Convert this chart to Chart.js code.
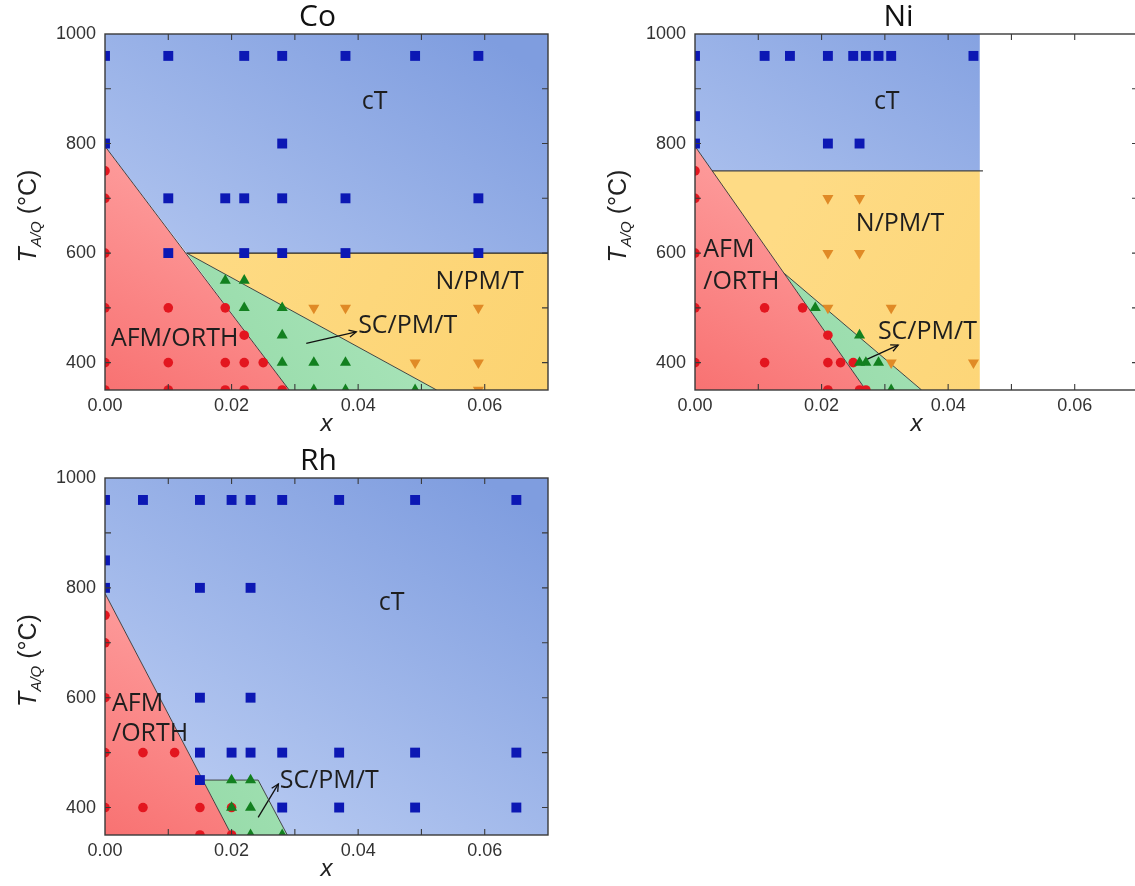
<!DOCTYPE html>
<html>
<head>
<meta charset="utf-8">
<script src="https://cdn.jsdelivr.net/npm/chart.js@4.4.1/dist/chart.umd.min.js"></script>
<style>
  html, body { margin: 0; padding: 0; background: #fff; }
  body { position: relative; width: 1135px; height: 886px; overflow: hidden; }
  canvas { position: absolute; }
</style>
</head>
<body>
<canvas id="coChart" width="580" height="440" style="left:0px;top:0px"></canvas>
<canvas id="niChart" width="570" height="440" style="left:580px;top:0px"></canvas>
<canvas id="rhChart" width="580" height="446" style="left:0px;top:440px"></canvas>
<script>
// tick labels shared by the three panels
const xTicks = [0, 0.02, 0.04, 0.06];
const yTicks = [400, 600, 800, 1000];

// ---------- Co ----------
const coBlueX = [0, 0.010, 0.022, 0.028, 0.038, 0.049, 0.059, 0, 0.028, 0.010, 0.019, 0.022, 0.028, 0.038, 0.059, 0.010, 0.022, 0.028, 0.038, 0.059];
const coBlueY = [960, 960, 960, 960, 960, 960, 960, 800, 800, 700, 700, 700, 700, 700, 700, 600, 600, 600, 600, 600];
const coRedX = [0, 0, 0, 0, 0.010, 0.019, 0.022, 0, 0.010, 0.019, 0.022, 0.025, 0, 0.010, 0.019, 0.022, 0.028];
const coRedY = [750, 700, 600, 500, 500, 500, 450, 400, 400, 400, 400, 400, 350, 350, 350, 350, 350];
const coGreenX = [0.019, 0.022, 0.022, 0.028, 0.028, 0.028, 0.033, 0.038, 0.033, 0.038, 0.049];
const coGreenY = [550, 550, 500, 500, 450, 400, 400, 400, 350, 350, 350];
const coOrangeX = [0.033, 0.038, 0.059, 0.049, 0.059, 0.059];
const coOrangeY = [500, 500, 500, 400, 400, 350];
// phase regions (polygon corners)
const coCtRegX = [0, 0.07, 0.07, 0.0129, 0];
const coCtRegY = [1000, 1000, 600, 600, 795];
const coAfmRegX = [0, 0.0291, 0];
const coAfmRegY = [795, 350, 350];
const coScRegX = [0.0129, 0.0524, 0.0291];
const coScRegY = [600, 350, 350];
const coNRegX = [0.0129, 0.07, 0.07, 0.0524];
const coNRegY = [600, 600, 350, 350];
// boundary lines
const coLine1X = [0, 0.0291], coLine1Y = [795, 350];
const coLine2X = [0.0129, 0.0524], coLine2Y = [600, 350];
const coLine3X = [0.0129, 0.07], coLine3Y = [600, 600];
const coArrowX = [0.0318, 0.0397], coArrowY = [435, 456];

// ---------- Ni ----------
const niBlueX = [0, 0.011, 0.015, 0.021, 0.025, 0.027, 0.029, 0.031, 0.044, 0, 0, 0.021, 0.026];
const niBlueY = [960, 960, 960, 960, 960, 960, 960, 960, 960, 850, 800, 800, 800];
const niRedX = [0, 0, 0, 0, 0.011, 0.017, 0.021, 0, 0.011, 0.021, 0.023, 0.025, 0.021, 0.026, 0.027];
const niRedY = [750, 700, 600, 500, 500, 500, 450, 400, 400, 400, 400, 400, 350, 350, 350];
const niGreenX = [0.019, 0.026, 0.026, 0.027, 0.029, 0.031];
const niGreenY = [500, 450, 400, 400, 400, 350];
const niOrangeX = [0.021, 0.026, 0.021, 0.026, 0.021, 0.031, 0.031, 0.044];
const niOrangeY = [700, 700, 600, 600, 500, 500, 400, 400];
const niCtRegX = [0, 0.045, 0.045, 0.0027, 0];
const niCtRegY = [1000, 1000, 750, 750, 795];
const niAfmRegX = [0, 0.027, 0];
const niAfmRegY = [795, 350, 350];
const niScRegX = [0.0141, 0.0358, 0.027];
const niScRegY = [563, 350, 350];
const niNRegX = [0.0027, 0.045, 0.045, 0.0358, 0.0141];
const niNRegY = [750, 750, 350, 350, 563];
const niLine1X = [0, 0.027], niLine1Y = [795, 350];
const niLine2X = [0.0141, 0.0358], niLine2Y = [563, 350];
const niLine3X = [0.0027, 0.0455], niLine3Y = [750, 750];
const niArrowX = [0.0268, 0.0321], niArrowY = [404, 432];

// ---------- Rh ----------
const rhBlueX = [0, 0.006, 0.015, 0.020, 0.023, 0.028, 0.037, 0.049, 0.065, 0, 0, 0.015, 0.023, 0.015, 0.023, 0.015, 0.020, 0.023, 0.028, 0.037, 0.049, 0.065, 0.015, 0.028, 0.037, 0.049, 0.065];
const rhBlueY = [960, 960, 960, 960, 960, 960, 960, 960, 960, 850, 800, 800, 800, 600, 600, 500, 500, 500, 500, 500, 500, 500, 450, 400, 400, 400, 400];
const rhRedX = [0, 0, 0, 0, 0.006, 0.011, 0, 0.006, 0.015, 0.020, 0.015, 0.020];
const rhRedY = [750, 700, 600, 500, 500, 500, 400, 400, 400, 400, 350, 350];
const rhGreenX = [0.020, 0.023, 0.020, 0.023, 0.023, 0.028];
const rhGreenY = [450, 450, 400, 400, 350, 350];
const rhCtRegX = [0, 0.07, 0.07, 0.0288, 0.0242, 0.0155, 0];
const rhCtRegY = [1000, 1000, 350, 350, 450, 450, 790];
const rhAfmRegX = [0, 0.020, 0];
const rhAfmRegY = [790, 350, 350];
const rhScRegX = [0.0155, 0.0242, 0.0288, 0.020];
const rhScRegY = [450, 450, 350, 350];
const rhLine1X = [0, 0.020], rhLine1Y = [790, 350];
const rhLine2X = [0.0155, 0.0242, 0.0288], rhLine2Y = [450, 450, 350];
const rhArrowX = [0.0242, 0.0274], rhArrowY = [382, 443];

const pts = (xs, ys) => xs.map((v, i) => ({ x: v, y: ys[i] }));

// gradient fills, built against the chart area
const makeGrad = (from, to, c0, c1) => (c) => {
  const a = c.chart.chartArea;
  if (!a) return c0;
  const g = c.chart.ctx.createLinearGradient(
    a.left + from[0] * a.width, a.top + from[1] * a.height,
    a.left + to[0] * a.width, a.top + to[1] * a.height);
  g.addColorStop(0, c0);
  g.addColorStop(1, c1);
  return g;
};
const blueFill = makeGrad([0.85, 0], [0.35, 1], '#7f9ddf', '#b6c9f1');
const redFill = makeGrad([0, 1], [0.3, 0.25], '#f87272', '#ffaaaa');
const greenFill = makeGrad([0.1, 1], [0.7, 0.5], '#93d9a6', '#ade6bd');
const yellowFill = makeGrad([0.2, 0.5], [1, 1], '#fedb85', '#fcd371');

function region(xs, ys, fill) {
  const p = pts(xs, ys);
  p.push(p[0]);
  return { type: 'line', data: p, fill: 'shape', backgroundColor: fill,
           borderWidth: 0, borderColor: 'rgba(0,0,0,0)', pointRadius: 0, order: 10 };
}
function bound(xs, ys, w, color) {
  return { type: 'line', data: pts(xs, ys), fill: false, borderColor: color || '#333',
           borderWidth: w || 1, pointRadius: 0, order: 5 };
}
function marks(xs, ys, color, style, r, rot) {
  return { data: pts(xs, ys), backgroundColor: color, borderWidth: 0, pointStyle: style,
           pointRadius: r, rotation: rot || 0, clip: 0, order: 1 };
}

// frame, inward ticks, texts, arrow head
const phaseDecor = {
  id: 'phaseDecor',
  afterDatasetsDraw(chart, args, opts) {
    const { ctx, chartArea: a, scales: { x, y } } = chart;
    ctx.save();
    ctx.strokeStyle = '#3a3a3a';
    ctx.lineWidth = 1.4;
    ctx.strokeRect(a.left, a.top, a.width, a.height);
    ctx.lineWidth = 1.1;
    ctx.beginPath();
    for (let i = 1; i < 7; i++) {
      const px = x.getPixelForValue(i / 100);
      ctx.moveTo(px, a.bottom); ctx.lineTo(px, a.bottom - 6);
      ctx.moveTo(px, a.top); ctx.lineTo(px, a.top + 6);
    }
    for (let v = 400; v < 1000; v += 100) {
      const py = y.getPixelForValue(v);
      ctx.moveTo(a.left, py); ctx.lineTo(a.left + 6, py);
      ctx.moveTo(a.right, py); ctx.lineTo(a.right - 6, py);
    }
    ctx.stroke();

    // arrow head
    const ax = opts.arrowX, ay = opts.arrowY;
    const x0 = x.getPixelForValue(ax[0]), y0 = y.getPixelForValue(ay[0]);
    const x1 = x.getPixelForValue(ax[1]), y1 = y.getPixelForValue(ay[1]);
    const ang = Math.atan2(y1 - y0, x1 - x0);
    ctx.strokeStyle = '#111';
    ctx.lineWidth = 1.3;
    ctx.beginPath();
    ctx.moveTo(x1 - 8 * Math.cos(ang - 0.45), y1 - 8 * Math.sin(ang - 0.45));
    ctx.lineTo(x1, y1);
    ctx.lineTo(x1 - 8 * Math.cos(ang + 0.45), y1 - 8 * Math.sin(ang + 0.45));
    ctx.stroke();

    // phase labels
    ctx.fillStyle = '#1e1e1e';
    ctx.font = '25px "Open Sans"';
    ctx.textBaseline = 'middle';
    opts.labels.forEach(l => {
      ctx.textAlign = l.align;
      ctx.fillText(l.text, x.getPixelForValue(l.x), y.getPixelForValue(l.y));
    });

    // panel title
    ctx.fillStyle = '#111';
    ctx.font = '30px "Open Sans"';
    ctx.textAlign = 'center';
    ctx.fillText(opts.title, (a.left + a.right) / 2 + opts.titleShift, a.top - 17);

    // x axis title
    ctx.fillStyle = '#222';
    ctx.font = 'italic 24px "Liberation Sans"';
    ctx.fillText('x', (a.left + a.right) / 2, a.bottom + 34);

    // y axis title with subscript, rotated
    ctx.translate(a.left - 78, (a.top + a.bottom) / 2 + 4);
    ctx.rotate(-Math.PI / 2);
    ctx.textAlign = 'left';
    ctx.textBaseline = 'alphabetic';
    const f1 = 'italic 25px "Liberation Sans"', f2 = 'italic 15px "Liberation Sans"', f3 = '25px "Liberation Sans"';
    ctx.font = f1; const w1 = ctx.measureText('T').width;
    ctx.font = f2; const w2 = ctx.measureText('A/Q').width;
    ctx.font = f3; const w3 = ctx.measureText(' (°C)').width;
    let s = -(w1 + w2 + w3) / 2;
    ctx.font = f1; ctx.fillText('T', s, 9); s += w1;
    ctx.font = f2; ctx.fillText('A/Q', s, 14); s += w2;
    ctx.font = f3; ctx.fillText(' (°C)', s, 9);
    ctx.restore();
  }
};

function phaseChart(canvasId, datasets, layout, decor) {
  const tickFont = { family: '"Liberation Sans"', size: 18 };
  new Chart(document.getElementById(canvasId), {
    type: 'scatter',
    data: { datasets: datasets },
    plugins: [phaseDecor],
    options: {
      responsive: false,
      animation: false,
      events: [],
      layout: { padding: { top: layout.padTop, right: layout.padRight, left: 0, bottom: 0 } },
      scales: {
        x: {
          type: 'linear', min: 0, max: 0.07,
          grid: { display: false, drawTicks: false },
          border: { display: false },
          afterBuildTicks: (s) => { s.ticks = xTicks.map(v => ({ value: v })); },
          afterFit: (s) => { s.height = layout.xHeight; },
          ticks: { font: tickFont, color: '#333', padding: 5, autoSkip: false, maxRotation: 0,
                   callback: (v) => Number(v).toFixed(2) }
        },
        y: {
          type: 'linear', min: 350, max: 1000,
          grid: { display: false, drawTicks: false },
          border: { display: false },
          afterBuildTicks: (s) => { s.ticks = yTicks.map(v => ({ value: v })); },
          afterFit: (s) => { s.width = layout.yWidth; },
          ticks: { font: tickFont, color: '#333', padding: 9, autoSkip: false,
                   callback: (v) => String(v) }
        }
      },
      plugins: {
        legend: { display: false },
        tooltip: { enabled: false },
        title: { display: false },
        phaseDecor: decor
      }
    }
  });
}

const blueSq = '#0c18b4', redDot = '#e3161f', greenTri = '#12801f', orangeTri = '#e08a26';

phaseChart('coChart', [
  marks(coBlueX, coBlueY, blueSq, 'rect', 7),
  marks(coRedX, coRedY, redDot, 'circle', 4.8),
  marks(coGreenX, coGreenY, greenTri, 'triangle', 6.4),
  marks(coOrangeX, coOrangeY, orangeTri, 'triangle', 6.4, 180),
  bound(coLine1X, coLine1Y, 0.9),
  bound(coLine2X, coLine2Y, 0.9),
  bound(coLine3X, coLine3Y, 1.4, '#222'),
  bound(coArrowX, coArrowY, 1.3, '#111'),
  region(coCtRegX, coCtRegY, blueFill),
  region(coAfmRegX, coAfmRegY, redFill),
  region(coScRegX, coScRegY, greenFill),
  region(coNRegX, coNRegY, yellowFill)
], { padTop: 34, padRight: 32, yWidth: 105, xHeight: 50 }, {
  title: 'Co', titleShift: -9, arrowX: coArrowX, arrowY: coArrowY,
  labels: [
    { text: 'cT', x: 0.0426, y: 876, align: 'center' },
    { text: 'N/PM/T', x: 0.0592, y: 548, align: 'center' },
    { text: 'AFM/ORTH', x: 0.0110, y: 444, align: 'center' },
    { text: 'SC/PM/T', x: 0.0400, y: 467, align: 'left' }
  ]
});

phaseChart('niChart', [
  marks(niBlueX, niBlueY, blueSq, 'rect', 7),
  marks(niGreenX, niGreenY, greenTri, 'triangle', 6.4),
  marks(niRedX, niRedY, redDot, 'circle', 4.8),
  marks(niOrangeX, niOrangeY, orangeTri, 'triangle', 6.4, 180),
  bound(niLine1X, niLine1Y, 0.9),
  bound(niLine2X, niLine2Y, 0.9),
  bound(niLine3X, niLine3Y, 1.4, '#444'),
  bound(niArrowX, niArrowY, 1.3, '#111'),
  region(niCtRegX, niCtRegY, blueFill),
  region(niAfmRegX, niAfmRegY, redFill),
  region(niScRegX, niScRegY, greenFill),
  region(niNRegX, niNRegY, yellowFill)
], { padTop: 34, padRight: 12, yWidth: 115, xHeight: 50 }, {
  title: 'Ni', titleShift: -18, arrowX: niArrowX, arrowY: niArrowY,
  labels: [
    { text: 'cT', x: 0.0303, y: 876, align: 'center' },
    { text: 'N/PM/T', x: 0.0324, y: 653, align: 'center' },
    { text: 'AFM', x: 0.0013, y: 605, align: 'left' },
    { text: '/ORTH', x: 0.0013, y: 548, align: 'left' },
    { text: 'SC/PM/T', x: 0.0289, y: 456, align: 'left' }
  ]
});

phaseChart('rhChart', [
  marks(rhBlueX, rhBlueY, blueSq, 'rect', 7),
  marks(rhGreenX, rhGreenY, greenTri, 'triangle', 6.4),
  marks(rhRedX, rhRedY, redDot, 'circle', 4.8),
  bound(rhLine1X, rhLine1Y, 0.9),
  bound(rhLine2X, rhLine2Y, 0.9),
  bound(rhArrowX, rhArrowY, 1.3, '#111'),
  region(rhCtRegX, rhCtRegY, blueFill),
  region(rhAfmRegX, rhAfmRegY, redFill),
  region(rhScRegX, rhScRegY, greenFill)
], { padTop: 38, padRight: 32, yWidth: 105, xHeight: 51 }, {
  title: 'Rh', titleShift: -8, arrowX: rhArrowX, arrowY: rhArrowY,
  labels: [
    { text: 'cT', x: 0.0453, y: 773, align: 'center' },
    { text: 'AFM', x: 0.0011, y: 588, align: 'left' },
    { text: '/ORTH', x: 0.0011, y: 535, align: 'left' },
    { text: 'SC/PM/T', x: 0.0276, y: 449, align: 'left' }
  ]
});
</script>
</body>
</html>
